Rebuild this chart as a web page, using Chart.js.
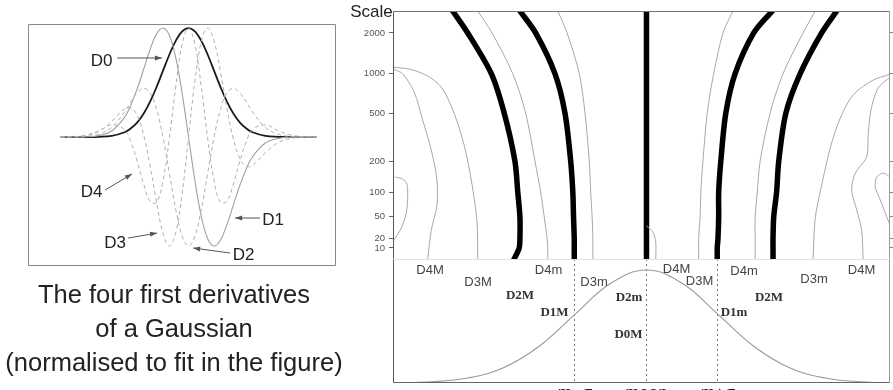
<!DOCTYPE html>
<html>
<head>
<meta charset="utf-8">
<script src="https://cdn.jsdelivr.net/npm/chart.js@4.4.1/dist/chart.umd.min.js"></script>
<style>
  html, body { margin: 0; padding: 0; background: #fff; }
  body { width: 893px; height: 390px; position: relative; overflow: hidden;
         font-family: "Liberation Sans", Arial, sans-serif; }
  canvas { position: absolute; }
  .lab { position: absolute; transform: translate(-50%, -50%); line-height: 1; white-space: nowrap; }
  .big { font-size: 17px; color: #222; }
  .sm { font-size: 13px; color: #444; }
  .bs { font-size: 13px; color: #333; font-weight: bold;
        font-family: "Liberation Serif", "Times New Roman", serif; }
  #caption { position: absolute; left: 0; top: 277px; width: 348px; text-align: center;
             font-size: 25.5px; line-height: 34px; color: #222; }
</style>
</head>
<body>
<canvas id="deriv" width="308" height="242" style="left:28px;top:24px"></canvas>
<canvas id="scales" width="553" height="259" style="left:340px;top:0px"></canvas>
<canvas id="signal" width="553" height="144" style="left:340px;top:259px"></canvas>

<!-- left panel labels -->
<span class="lab big" style="left:101.5px;top:60px">D0</span>
<span class="lab big" style="left:91.5px;top:191px">D4</span>
<span class="lab big" style="left:273px;top:219px">D1</span>
<span class="lab big" style="left:115px;top:242px">D3</span>
<span class="lab big" style="left:243.5px;top:254px">D2</span>
<div id="caption">The four first derivatives<br>of a Gaussian<br>(normalised to fit in the figure)</div>

<!-- right panel labels -->
<span class="lab big" style="left:371.5px;top:10.5px">Scale</span>
<span class="lab sm" style="left:430px;top:269px">D4M</span>
<span class="lab sm" style="left:478px;top:281px">D3M</span>
<span class="lab sm" style="left:548.5px;top:269px">D4m</span>
<span class="lab sm" style="left:594px;top:281px">D3m</span>
<span class="lab sm" style="left:676.5px;top:268px">D4M</span>
<span class="lab sm" style="left:699.5px;top:280px">D3M</span>
<span class="lab sm" style="left:744px;top:270px">D4m</span>
<span class="lab sm" style="left:814px;top:278px">D3m</span>
<span class="lab sm" style="left:861.5px;top:269px">D4M</span>
<span class="lab bs" style="left:520px;top:294px">D2M</span>
<span class="lab bs" style="left:554.5px;top:311px">D1M</span>
<span class="lab bs" style="left:629px;top:296px">D2m</span>
<span class="lab bs" style="left:628.5px;top:333px">D0M</span>
<span class="lab bs" style="left:734px;top:311px">D1m</span>
<span class="lab bs" style="left:769px;top:296px">D2M</span>

<script>
// ---- left panel: Gaussian and its first four derivatives (normalised) ----
const derivX = [-5, -4.5, -4, -3.5, -3, -2.5, -2.25, -2, -1.75, -1.5, -1.25, -1, -0.75, -0.5, -0.25, 0,
                0.25, 0.5, 0.75, 1, 1.25, 1.5, 1.75, 2, 2.25, 2.5, 3, 3.5, 4, 4.5, 5];
const derivD0 = [0, 0, 0, 0.002, 0.011, 0.044, 0.080, 0.135, 0.216, 0.325, 0.458, 0.607, 0.755, 0.882, 0.969, 1,
                 0.969, 0.882, 0.755, 0.607, 0.458, 0.325, 0.216, 0.135, 0.080, 0.044, 0.011, 0.002, 0, 0, 0];
const derivD1 = [0, 0, 0.002, 0.013, 0.055, 0.181, 0.295, 0.446, 0.624, 0.803, 0.944, 1, 0.933, 0.728, 0.400, 0,
                 -0.400, -0.728, -0.933, -1, -0.944, -0.803, -0.624, -0.446, -0.295, -0.181, -0.055, -0.013, -0.002, 0, 0];
const derivD2 = [0, 0.001, 0.005, 0.025, 0.089, 0.230, 0.323, 0.406, 0.446, 0.406, 0.258, 0, -0.330, -0.662, -0.909, -1,
                 -0.909, -0.662, -0.330, 0, 0.258, 0.406, 0.446, 0.406, 0.323, 0.230, 0.089, 0.025, 0.005, 0.001, 0];
const derivD3 = [0, 0.002, 0.013, 0.051, 0.145, 0.258, 0.268, 0.196, 0.017, -0.265, -0.596, -0.879, -1, -0.879, -0.516, 0,
                 0.516, 0.879, 1, 0.879, 0.596, 0.265, -0.017, -0.196, -0.268, -0.258, -0.145, -0.051, -0.013, -0.002, 0];
const derivD4 = [0, 0.004, 0.018, 0.058, 0.111, 0.067, -0.046, -0.226, -0.432, -0.589, -0.600, -0.404, -0.015, 0.460, 0.849, 1,
                 0.849, 0.460, -0.015, -0.404, -0.600, -0.589, -0.432, -0.226, -0.046, 0.067, 0.111, 0.058, 0.018, 0.004, 0];

// label arrows (tail -> tip), in the panel's data units
const arrowTails = [[-2.79, 0.725], [-3.26, -0.486], [2.79, -0.743], [-2.36, -0.927], [1.62, -1.064]];
const arrowTips = [[-1.04, 0.725], [-2.21, -0.339], [1.82, -0.743], [-1.23, -0.881], [0.18, -1.018]];

// ---- right panel, top: extrema positions (in sigma) against scale ----
const scaleTicks = [10, 20, 50, 100, 200, 500, 1000, 2000];
const scaleLevels = [2890, 2000, 1000, 500, 200, 100, 50, 20, 10, 0];
const d2MaxLeft = [-2.71, -2.50, -2.17, -1.99, -1.84, -1.80, -1.77, -1.77, -1.78, -1.85];
const d1Max = [-1.77, -1.55, -1.28, -1.14, -1.06, -1.03, -1.02, -1.01, -1.01, -1.01];
const d0Max = [0, 0, 0, 0, 0, 0, 0, 0, 0, 0];
const d1Min = [1.76, 1.50, 1.24, 1.11, 1.04, 1.01, 1.01, 1.00, 0.99, 0.99];
const d2MaxRight = [2.66, 2.45, 2.15, 1.95, 1.85, 1.82, 1.78, 1.77, 1.77, 1.77];
const d4MinLeft = [-2.36, -2.16, -1.87, -1.69, -1.56, -1.48, -1.43, -1.39, -1.38, -1.38];
const d3MinLeft = [-1.24, -1.11, -0.94, -0.86, -0.80, -0.78, -0.76, -0.75, -0.75, -0.75];
const d3MaxRight = [1.21, 1.07, 0.94, 0.85, 0.79, 0.76, 0.75, 0.73, 0.73, 0.73];
const d4MinRight = [2.36, 2.19, 1.91, 1.73, 1.59, 1.55, 1.52, 1.52, 1.52, 1.52];

// contours that bend back (x and scale given pointwise)
const d3MaxLeftX = [-3.55, -3.31, -3.06, -2.86, -2.68, -2.54, -2.44, -2.37, -2.36];
const d3MaxLeftS = [1120, 1080, 960, 780, 480, 260, 120, 42, 0];
const d4MaxLeftX = [-3.55, -3.50, -3.41, -3.25, -3.13, -3.01, -2.93, -2.93, -3.01, -3.06];
const d4MaxLeftS = [1090, 1060, 1000, 730, 440, 250, 133, 71, 30, 0];
const d4MaxLeftLowX = [-3.52, -3.41, -3.35, -3.34, -3.36, -3.43, -3.55];
const d4MaxLeftLowS = [142, 136, 121, 86, 56, 33, 16];
const d3MinRightX = [3.41, 3.17, 2.89, 2.71, 2.57, 2.45, 2.36, 2.33];
const d3MinRightS = [990, 895, 690, 456, 260, 118, 48, 0];
const d4MaxRightX = [3.41, 3.24, 3.14, 3.10, 3.08, 2.92, 2.87, 2.94, 3.01, 3.03];
const d4MaxRightS = [943, 779, 528, 333, 217, 155, 105, 62, 30, 0];
const d4MaxRightLowX = [3.41, 3.31, 3.22, 3.20, 3.27, 3.36, 3.41];
const d4MaxRightLowS = [142, 155, 142, 113, 82, 50, 36];
const d4MaxCentreX = [0, 0.09, 0.13, 0.13];
const d4MaxCentreS = [36, 28, 16, 0];

// ---- right panel, bottom: the signal ----
const signalX = [-3.6, -3, -2.5, -2, -1.5, -1, -0.5, 0, 0.5, 1, 1.5, 2, 2.5, 3, 3.45];
const signalY = [0.001, 0.011, 0.044, 0.135, 0.325, 0.607, 0.882, 1, 0.882, 0.607, 0.325, 0.135, 0.044, 0.011, 0.002];
const signalTicks = [-1, 0, 1];
const signalTickLabels = ['m\u2212\u03c3', 'mean', 'm+\u03c3'];

const SIG_MIN = -3.545, SIG_MAX = 3.406;
const SCALE_SHIFT = 50;

Chart.defaults.font.family = '"Liberation Sans", Arial, sans-serif';
Chart.defaults.animation = false;

// y axis of the scale plot: logarithmic in (scale + 50)
class ShiftedLogScale extends Chart.LinearScale {
  static id = 'shiftedLog';
  getPixelForValue(v) {
    const lo = Math.log(this.min + SCALE_SHIFT), hi = Math.log(this.max + SCALE_SHIFT);
    return this.getPixelForDecimal((Math.log(v + SCALE_SHIFT) - lo) / (hi - lo));
  }
  getValueForPixel(p) {
    const lo = Math.log(this.min + SCALE_SHIFT), hi = Math.log(this.max + SCALE_SHIFT);
    return Math.exp(lo + this.getDecimalForPixel(p) * (hi - lo)) - SCALE_SHIFT;
  }
}
Chart.register(ShiftedLogScale);

const pts = (xs, ys) => xs.map((x, i) => ({ x, y: ys[i] }));

// box around the chart area, one colour per side
const framePlugin = {
  id: 'frame',
  afterDraw(chart, args, opts) {
    const { ctx, chartArea: a } = chart;
    const l = Math.round(a.left) + 0.5, r = Math.round(a.right) - 0.5;
    const t = Math.round(a.top) + 0.5, b = Math.round(a.bottom) - 0.5;
    const side = (c, x0, y0, x1, y1) => {
      if (!c) return;
      ctx.strokeStyle = c; ctx.beginPath(); ctx.moveTo(x0, y0); ctx.lineTo(x1, y1); ctx.stroke();
    };
    ctx.save();
    ctx.lineWidth = 1;
    side(opts.top, l, t, r, t);
    side(opts.bottom, l, b, r, b);
    side(opts.left, l, t, l, b);
    side(opts.right, r, t, r, b);
    ctx.restore();
  }
};

const arrowPlugin = {
  id: 'arrows',
  afterDatasetsDraw(chart) {
    const { ctx, scales: { x, y } } = chart;
    ctx.save();
    ctx.strokeStyle = '#555';
    ctx.fillStyle = '#555';
    ctx.lineWidth = 1;
    arrowTails.forEach((tail, i) => {
      const x0 = x.getPixelForValue(tail[0]), y0 = y.getPixelForValue(tail[1]);
      const x1 = x.getPixelForValue(arrowTips[i][0]), y1 = y.getPixelForValue(arrowTips[i][1]);
      const ang = Math.atan2(y1 - y0, x1 - x0);
      ctx.beginPath(); ctx.moveTo(x0, y0); ctx.lineTo(x1, y1); ctx.stroke();
      ctx.beginPath();
      ctx.moveTo(x1, y1);
      ctx.lineTo(x1 - 7 * Math.cos(ang) + 2.5 * Math.sin(ang), y1 - 7 * Math.sin(ang) - 2.5 * Math.cos(ang));
      ctx.lineTo(x1 - 7 * Math.cos(ang) - 2.5 * Math.sin(ang), y1 - 7 * Math.sin(ang) + 2.5 * Math.cos(ang));
      ctx.closePath(); ctx.fill();
    });
    ctx.restore();
  }
};

const curve = (data, color, width, dash) => ({
  data, borderColor: color, borderWidth: width, borderDash: dash || [],
  pointRadius: 0, tension: 0.4, fill: false
});

// left panel
new Chart(document.getElementById('deriv'), {
  type: 'line',
  data: {
    datasets: [
      curve(pts(derivX, derivD4), '#b0b0b0', 1, [4, 3]),
      curve(pts(derivX, derivD3), '#b0b0b0', 1, [4, 3]),
      curve(pts(derivX, derivD2), '#b0b0b0', 1, [4, 3]),
      curve(pts(derivX, derivD1), '#a0a0a0', 1.1),
      curve(pts(derivX, derivD0), '#1a1a1a', 1.8)
    ]
  },
  options: {
    responsive: false,
    layout: { padding: 0 },
    plugins: { legend: { display: false }, tooltip: { enabled: false },
               frame: { top: '#888', bottom: '#888', left: '#888', right: '#888' } },
    scales: {
      x: { type: 'linear', display: false, min: -6.27, max: 5.76 },
      y: { display: false, min: -1.183, max: 1.037 }
    }
  },
  plugins: [arrowPlugin, framePlugin]
});

// right panel, scale-space
const thick = d => ({ data: d, borderColor: '#000', borderWidth: 5.5, pointRadius: 0,
                      tension: 0.3, borderCapStyle: 'round', borderJoinStyle: 'round' });
const thin = d => ({ data: d, borderColor: '#a8a8a8', borderWidth: 1, pointRadius: 0, tension: 0.3 });

// tick labels must not push the chart area in
const noPad = ax => { ax.paddingTop = 0; ax.paddingBottom = 0; };

new Chart(document.getElementById('scales'), {
  type: 'line',
  data: {
    datasets: [
      thin(pts(d4MinLeft, scaleLevels)),
      thin(pts(d3MinLeft, scaleLevels)),
      thin(pts(d3MaxRight, scaleLevels)),
      thin(pts(d4MinRight, scaleLevels)),
      thin(pts(d3MaxLeftX, d3MaxLeftS)),
      thin(pts(d4MaxLeftX, d4MaxLeftS)),
      thin(pts(d4MaxLeftLowX, d4MaxLeftLowS)),
      thin(pts(d3MinRightX, d3MinRightS)),
      thin(pts(d4MaxRightX, d4MaxRightS)),
      thin(pts(d4MaxRightLowX, d4MaxRightLowS)),
      thin(pts(d4MaxCentreX, d4MaxCentreS)),
      thick(pts(d2MaxLeft, scaleLevels)),
      thick(pts(d1Max, scaleLevels)),
      thick(pts(d0Max, scaleLevels)),
      thick(pts(d1Min, scaleLevels)),
      thick(pts(d2MaxRight, scaleLevels))
    ]
  },
  options: {
    responsive: false,
    layout: { padding: { top: 11, left: 0, right: 0, bottom: 0 } },
    plugins: { legend: { display: false }, tooltip: { enabled: false },
               frame: { top: '#777', left: '#555', right: '#999' } },
    scales: {
      x: { type: 'linear', display: false, min: SIG_MIN, max: SIG_MAX },
      y: {
        type: 'shiftedLog', position: 'left', min: 0, max: 2890,
        afterBuildTicks: ax => { ax.ticks = scaleTicks.map(v => ({ value: v })); },
        afterFit: ax => { ax.width = 53; noPad(ax); },
        ticks: { callback: v => String(v), font: { size: 9.5 }, color: '#555', padding: 4, autoSkip: false },
        grid: { drawOnChartArea: false, tickLength: 4, color: '#666' },
        border: { display: false }
      },
      y2: {
        type: 'shiftedLog', position: 'right', min: 0, max: 2890,
        afterBuildTicks: ax => { ax.ticks = scaleTicks.map(v => ({ value: v })); },
        afterFit: ax => { ax.width = 3; noPad(ax); },
        ticks: { display: false },
        grid: { drawOnChartArea: false, tickLength: 3, color: '#888' },
        border: { display: false }
      }
    }
  },
  plugins: [framePlugin]
});

// right panel, signal
new Chart(document.getElementById('signal'), {
  type: 'line',
  data: {
    datasets: [
      { data: pts(signalX, signalY), borderColor: '#9a9a9a', borderWidth: 1.1, pointRadius: 0, tension: 0.4 }
    ]
  },
  options: {
    responsive: false,
    layout: { padding: { left: 53, right: 3, top: 0, bottom: 0 } },
    plugins: { legend: { display: false }, tooltip: { enabled: false },
               frame: { top: '#e2e2e2', bottom: '#666', left: '#555', right: '#999' } },
    scales: {
      x: {
        type: 'linear', position: 'bottom', min: SIG_MIN, max: SIG_MAX,
        afterBuildTicks: ax => { ax.ticks = signalTicks.map(v => ({ value: v })); },
        afterFit: ax => { ax.height = 20; },
        ticks: { callback: (v, i) => signalTickLabels[i], font: { size: 17 }, color: '#222',
                 padding: 0, autoSkip: false, maxRotation: 0 },
        grid: { drawTicks: false, color: '#777', lineWidth: 1 },
        border: { display: false, dash: [2, 3] }
      },
      y: { display: false, min: 0, max: 1.097 }
    }
  },
  plugins: [framePlugin]
});
</script>
</body>
</html>
